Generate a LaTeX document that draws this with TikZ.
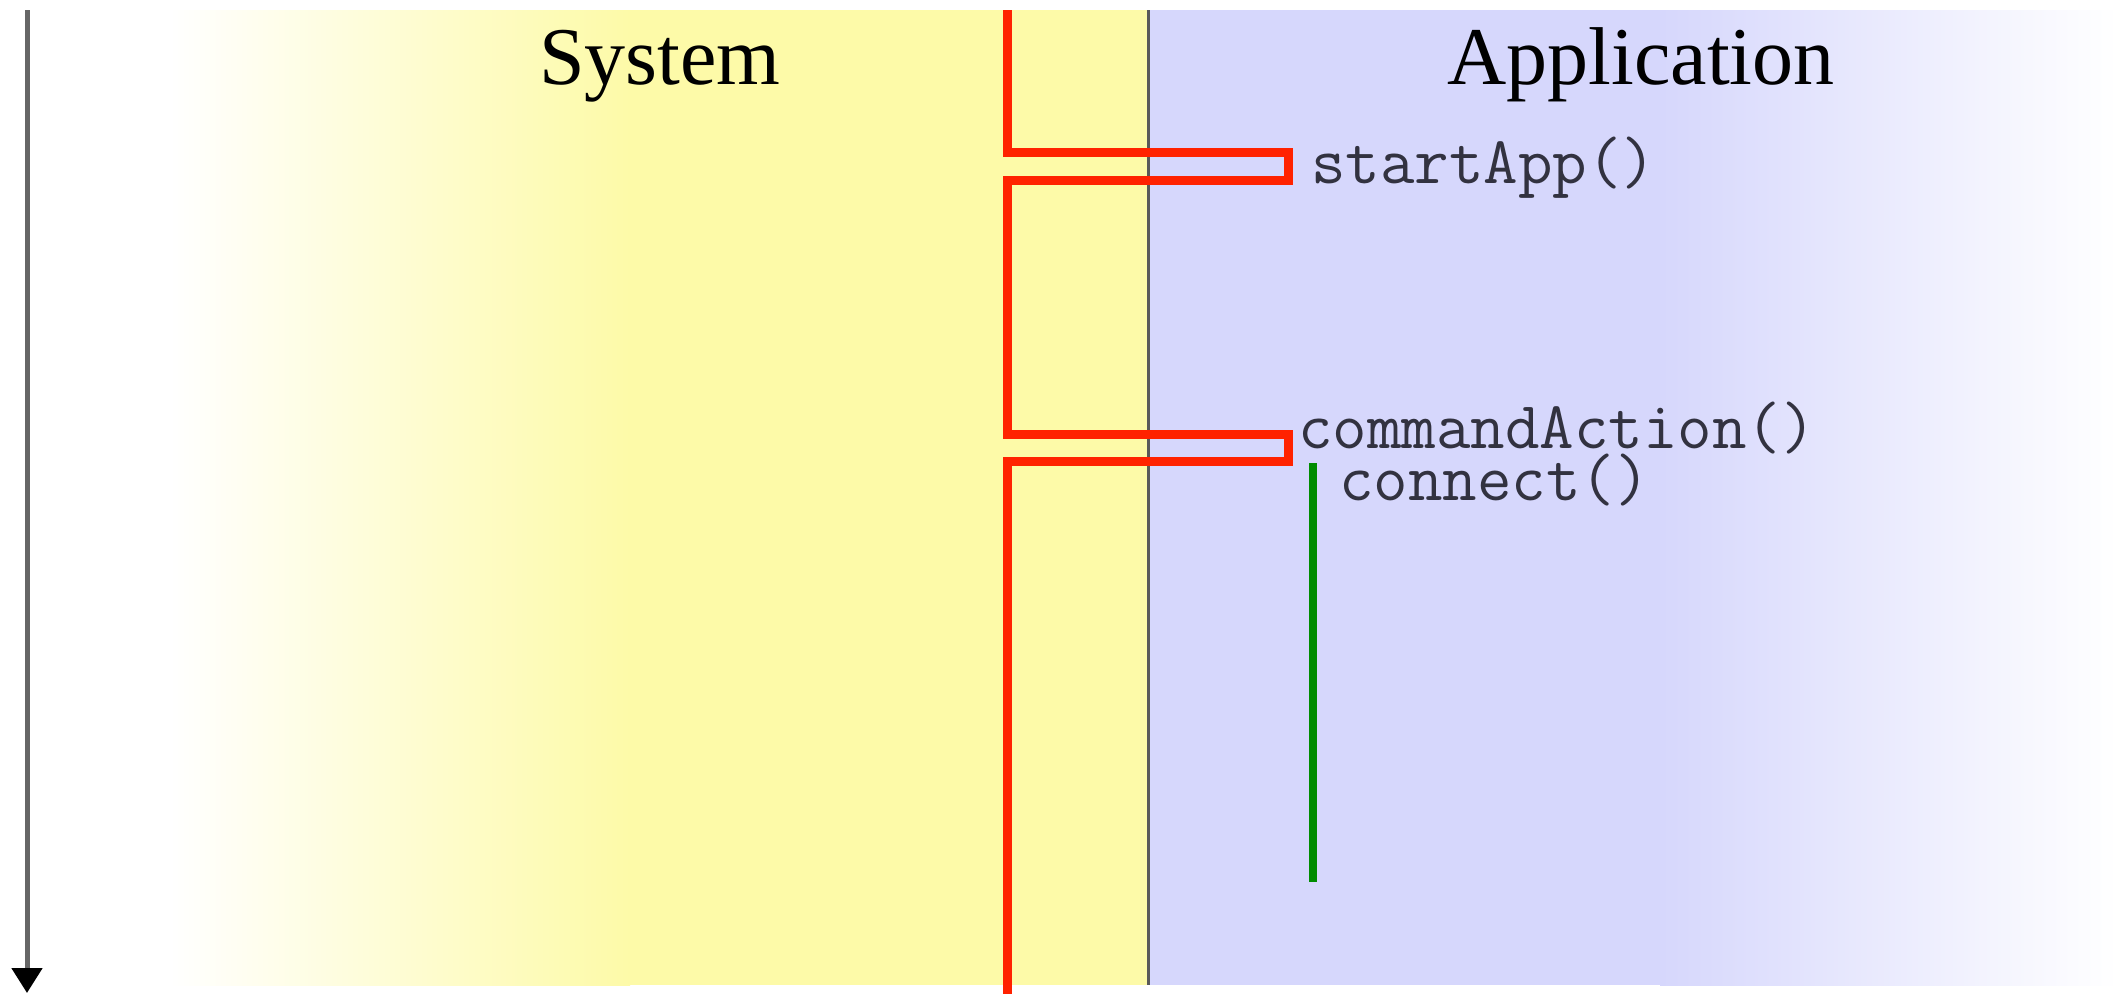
\documentclass[tikz,border=0pt]{standalone}
\usepackage{fontspec}
\setmainfont{Liberation Serif}
\usetikzlibrary{arrows.meta}
\definecolor{sysyellow}{RGB}{253,250,168}
\definecolor{appblue}{RGB}{214,215,252}
\definecolor{flowred}{RGB}{255,34,0}
\definecolor{callgreen}{RGB}{0,140,0}
\definecolor{codegray}{RGB}{50,50,64}
\tikzset{
  lane title/.style={font=\fontsize{82}{90}\selectfont, text=black, inner sep=0pt, anchor=base},
  call label/.style={font=\ttfamily\fontsize{67}{72}\selectfont, text=codegray, inner sep=0pt, anchor=base west},
  control flow/.style={draw=flowred, line width=9pt, line join=miter},
  nested call/.style={draw=callgreen, line width=8pt},
  time axis/.style={draw=black!60, line width=5pt, -{Triangle[width=30pt,length=25pt,color=black]}},
  lane border/.style={draw=black!65, line width=3pt}
}
\begin{document}
\begin{tikzpicture}[x=1pt,y=-1pt]
\useasboundingbox (0,0) rectangle (2118,994);
\fill[white] (0,0) rectangle (2118,994);
% system lane
\shade[left color=white, right color=sysyellow] (170,10) rectangle (630,985);
\fill[sysyellow] (629,10) rectangle (1148,985);
% application lane
\fill[appblue] (1148,10) rectangle (1661,985);
\shade[left color=appblue, right color=white] (1660,10) rectangle (2118,985);
\draw[lane border] (1148,10) -- (1148,985);

\node[lane title] (sys) at (660,84) {System};
\node[lane title] (app) at (1641,84) {Application};

% time axis
\coordinate (tstart) at (27,10);
\coordinate (tend) at (27,993);
\draw[time axis] (tstart) -- (tend);

% control flow between system and application
\coordinate (r0) at (1007,10);
\coordinate (r1) at (1007,152);
\coordinate (r2) at (1288,152);
\coordinate (r3) at (1288,180);
\coordinate (r4) at (1007,180);
\coordinate (r5) at (1007,434);
\coordinate (r6) at (1288,434);
\coordinate (r7) at (1288,461);
\coordinate (r8) at (1007,461);
\coordinate (r9) at (1007,994);
\draw[control flow] (r0) -- (r1) -- (r2) -- (r3) -- (r4) -- (r5) -- (r6) -- (r7) -- (r8) -- (r9);

\node[call label] (start) at (1311,183) {startApp()};
\node[call label] (cmd) at (1298,448) {commandAction()};
\node[call label] (conn) at (1339,500) {connect()};

% nested call duration
\coordinate (g0) at (1313,463);
\coordinate (g1) at (1313,882);
\draw[nested call] (g0) -- (g1);
\end{tikzpicture}
\end{document}
